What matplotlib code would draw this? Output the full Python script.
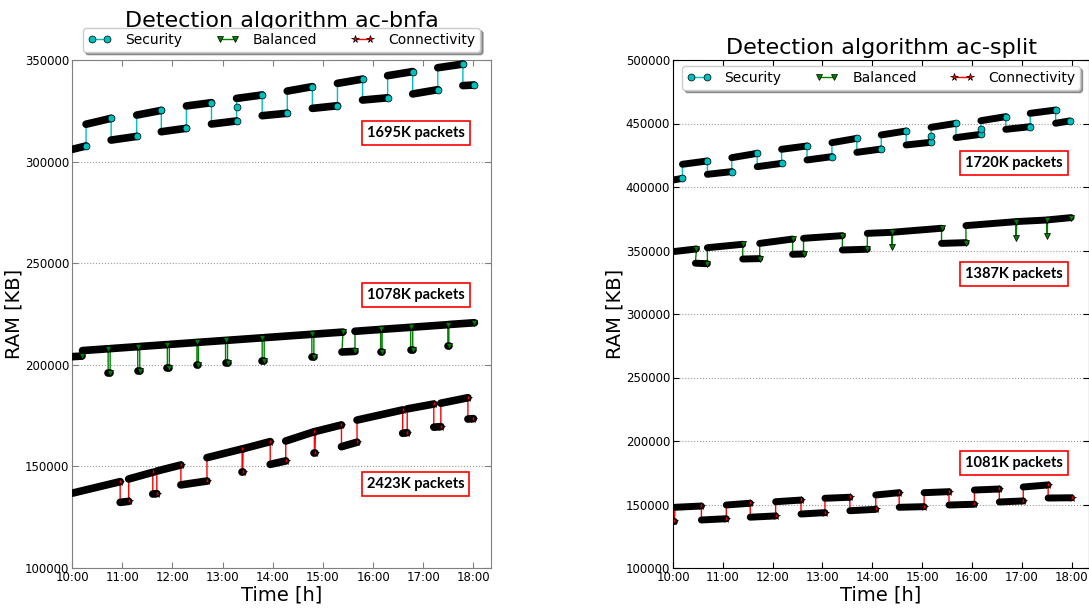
"""RAM usage over a day for two detection algorithms (ac-bnfa / ac-split)."""

import matplotlib
matplotlib.use("Agg")
import matplotlib.pyplot as plt
from matplotlib.lines import Line2D
from matplotlib.ticker import FuncFormatter, MultipleLocator

# each run: (t_start [h], t_end [h], ram_start [KB], ram_end [KB])
BNFA_SECURITY = [
    (10.00, 10.28, 306000, 307700), (10.28, 10.78, 318400, 321300),
    (10.78, 11.29, 310600, 312400), (11.29, 11.78, 322900, 325200),
    (11.78, 12.28, 314700, 316400), (12.28, 12.78, 327400, 329000),
    (12.78, 13.28, 318500, 320000), (13.28, 13.28, 327000, 327000),
    (13.28, 13.79, 331100, 332800), (13.79, 14.29, 322600, 323800),
    (14.29, 14.79, 334700, 336900), (14.79, 15.29, 326200, 327500),
    (15.29, 15.79, 338500, 340600), (15.79, 16.29, 330300, 331400),
    (16.29, 16.79, 342300, 344300), (16.79, 17.29, 333300, 335400),
    (17.29, 17.79, 346200, 348000), (17.79, 18.01, 337400, 337700),
]
BNFA_BALANCED = [
    (10.00, 10.20, 204000, 204300), (10.21, 10.72, 207000, 207900),
    (10.72, 10.76, 196100, 196100), (10.76, 11.31, 207960, 208930),
    (11.31, 11.35, 197100, 197100), (11.35, 11.90, 209000, 209960),
    (11.90, 11.94, 198300, 198300), (11.94, 12.49, 210030, 211000),
    (12.49, 12.52, 199900, 199900), (12.52, 13.06, 211070, 212000),
    (13.06, 13.10, 200800, 200800), (13.10, 13.79, 212070, 213280),
    (13.79, 13.83, 201900, 201900), (13.83, 14.78, 213350, 215020),
    (14.78, 14.82, 203700, 203700), (14.82, 15.40, 215090, 216100),
    (15.38, 15.64, 206300, 206600), (15.64, 16.15, 216500, 217400),
    (16.15, 16.18, 206500, 206500), (16.18, 16.75, 217470, 218450),
    (16.75, 16.79, 207300, 207300), (16.79, 17.49, 218520, 219750),
    (17.49, 17.51, 209300, 209300), (17.51, 18.02, 219820, 220700),
]
BNFA_CONNECTIVITY = [
    (10.00, 10.96, 136800, 142500), (10.96, 11.13, 132300, 132800),
    (11.13, 11.61, 143800, 147100), (11.61, 11.69, 136400, 136600),
    (11.69, 12.17, 147700, 150700), (12.17, 12.69, 140900, 142800),
    (12.69, 13.39, 154300, 158600), (13.39, 13.40, 147100, 147100),
    (13.41, 13.95, 158700, 162200), (13.95, 14.26, 151000, 152700),
    (14.26, 14.83, 162500, 167100), (14.83, 14.84, 156500, 156500),
    (14.85, 15.37, 167200, 170400), (15.37, 15.68, 159700, 161900),
    (15.68, 16.59, 172800, 177800), (16.59, 16.68, 166300, 166600),
    (16.68, 17.21, 178300, 180700), (17.21, 17.35, 169300, 169600),
    (17.35, 17.89, 181100, 183800), (17.89, 18.00, 173300, 173500),
]

SPLIT_SECURITY = [
    (10.00, 10.19, 405500, 406800), (10.19, 10.69, 417900, 420500),
    (10.69, 11.18, 410000, 412100), (11.18, 11.69, 423100, 426500),
    (11.69, 12.18, 416000, 418600), (12.18, 12.69, 429700, 432300),
    (12.69, 13.19, 421300, 423900), (13.19, 13.69, 434900, 438300),
    (13.69, 14.18, 427300, 429900), (14.18, 14.68, 441000, 444100),
    (14.68, 15.18, 433100, 435200), (15.18, 15.18, 440400, 440400),
    (15.18, 15.68, 447000, 450100), (15.68, 16.18, 438900, 441500),
    (16.18, 16.18, 445400, 445400), (16.18, 16.68, 452200, 455400),
    (16.68, 17.17, 445400, 447500), (17.17, 17.68, 458000, 460600),
    (17.68, 17.96, 450200, 452000),
]
SPLIT_BALANCED = [
    (10.00, 10.47, 349100, 351200), (10.45, 10.69, 340000, 339600),
    (10.69, 11.40, 352200, 354900), (11.40, 11.74, 343300, 343600),
    (11.74, 12.40, 355600, 359000), (12.40, 12.62, 347000, 347300),
    (12.62, 13.40, 359600, 361700), (13.40, 13.90, 350400, 351000),
    (13.90, 14.39, 363500, 364300), (14.39, 14.40, 353000, 353000),
    (14.41, 15.39, 364400, 367500), (15.39, 15.88, 355600, 356200),
    (15.88, 16.88, 369600, 372700), (16.88, 16.89, 360100, 360100),
    (16.90, 17.50, 372800, 374000), (17.50, 17.51, 361700, 361700),
    (17.52, 17.99, 374100, 375900),
]
SPLIT_CONNECTIVITY = [
    (10.00, 10.03, 137300, 137300), (10.04, 10.57, 147800, 148800),
    (10.57, 11.07, 137800, 138800), (11.07, 11.55, 149600, 151000),
    (11.55, 12.06, 140000, 141000), (12.06, 12.57, 152200, 153500),
    (12.57, 13.05, 142500, 143600), (13.05, 13.55, 154900, 155700),
    (13.55, 14.07, 145100, 146200), (14.07, 14.54, 157500, 159300),
    (14.54, 15.04, 147800, 148300), (15.04, 15.54, 159300, 160100),
    (15.54, 16.05, 149600, 150200), (16.05, 16.55, 161400, 162200),
    (16.55, 17.03, 152000, 152800), (17.03, 17.53, 163800, 165400),
    (17.53, 18.00, 155100, 155300),
]

BNFA_LABELS = ["1695K packets", "1078K packets", "2423K packets"]
SPLIT_LABELS = ["1720K packets", "1387K packets", "1081K packets"]
SERIES_NAMES = ["Security", "Balanced", "Connectivity"]

STYLES = [("c", "o", 5.0), ("g", "v", 5.0), ("r", "*", 5.5)]


def draw_series(ax, runs, color, marker, ms, black_lw):
    ts, vs = [], []
    for t0, t1, v0, v1 in runs:
        ts += [t0, t1]
        vs += [v0, v1]
    ax.plot(ts, vs, color=color, lw=1.0, zorder=2)
    for t0, t1, v0, v1 in runs:
        if t1 > t0:
            ax.plot([t0, t1], [v0, v1], color="k", lw=black_lw,
                    solid_capstyle="round", zorder=3)
    ax.plot([r[1] for r in runs], [r[3] for r in runs], ls="none",
            marker=marker, mfc=color, mec="k", mew=0.5, ms=ms, zorder=4)


def style_axes(ax, ylim, spine_color):
    ax.set_xlim(10.0, 18.35)
    ax.set_ylim(*ylim)
    ax.xaxis.set_major_locator(MultipleLocator(1))
    ax.yaxis.set_major_locator(MultipleLocator(50000))
    ax.xaxis.set_major_formatter(FuncFormatter(lambda x, _: f"{int(round(x))}:00"))
    ax.yaxis.set_major_formatter(FuncFormatter(lambda y, _: f"{int(y)}"))
    ax.tick_params(direction="in", top=True, right=True, labelsize=8.5,
                   length=4, pad=2, color=spine_color)
    ax.grid(True, axis="y", ls=":", color="#999999", lw=0.8)
    for sp in ax.spines.values():
        sp.set_color(spine_color)
    ax.set_xlabel("Time [h]", fontsize=14, labelpad=1)
    ax.set_ylabel("RAM [KB]", fontsize=14, labelpad=1)


def add_boxes(ax, labels, ypos):
    for lab, y in zip(labels, ypos):
        ax.text(0.82, y, lab, transform=ax.transAxes, ha="center", va="center",
                fontsize=10.5, fontweight="bold", family="Lato", zorder=6,
                bbox=dict(boxstyle="square,pad=0.35", fc="white", ec="red", lw=1.2))


fig = plt.figure(figsize=(10.89, 6.08), dpi=100)
ax1 = fig.add_axes([72 / 1089, 40 / 608, 419 / 1089, 508 / 608])
ax2 = fig.add_axes([673 / 1089, 40 / 608, 416 / 1089, 508 / 608])

for runs, (col, mk, ms) in zip([BNFA_SECURITY, BNFA_BALANCED, BNFA_CONNECTIVITY], STYLES):
    draw_series(ax1, runs, col, mk, ms, 5.5)
for runs, (col, mk, ms) in zip([SPLIT_SECURITY, SPLIT_BALANCED, SPLIT_CONNECTIVITY], STYLES):
    draw_series(ax2, runs, col, mk, ms, 5.0)

style_axes(ax1, (100000, 350000), "#808080")
style_axes(ax2, (100000, 500000), "black")

handles = [Line2D([], [], color=col, marker=mk, mfc=col, mec="k", mew=0.5, ms=ms, lw=1)
           for col, mk, ms in STYLES]
leg_kw = dict(ncol=3, fontsize=10, numpoints=2, handlelength=1.7, columnspacing=2.4,
              fancybox=True, shadow=True, borderpad=0.35, handletextpad=1.0,
              borderaxespad=0)
ax1.legend(handles, SERIES_NAMES, loc="lower center", bbox_to_anchor=(0.5, 1.016), **leg_kw)
ax2.legend(handles, SERIES_NAMES, loc="upper center", bbox_to_anchor=(0.5, 0.988), **leg_kw)

ax1.set_title("Detection algorithm ac-bnfa", fontsize=16, pad=24)
ax2.set_title("Detection algorithm ac-split", fontsize=16, pad=4)

add_boxes(ax1, BNFA_LABELS, [0.857, 0.538, 0.166])
add_boxes(ax2, SPLIT_LABELS, [0.797, 0.578, 0.207])

fig.savefig("out.png", dpi=100)
